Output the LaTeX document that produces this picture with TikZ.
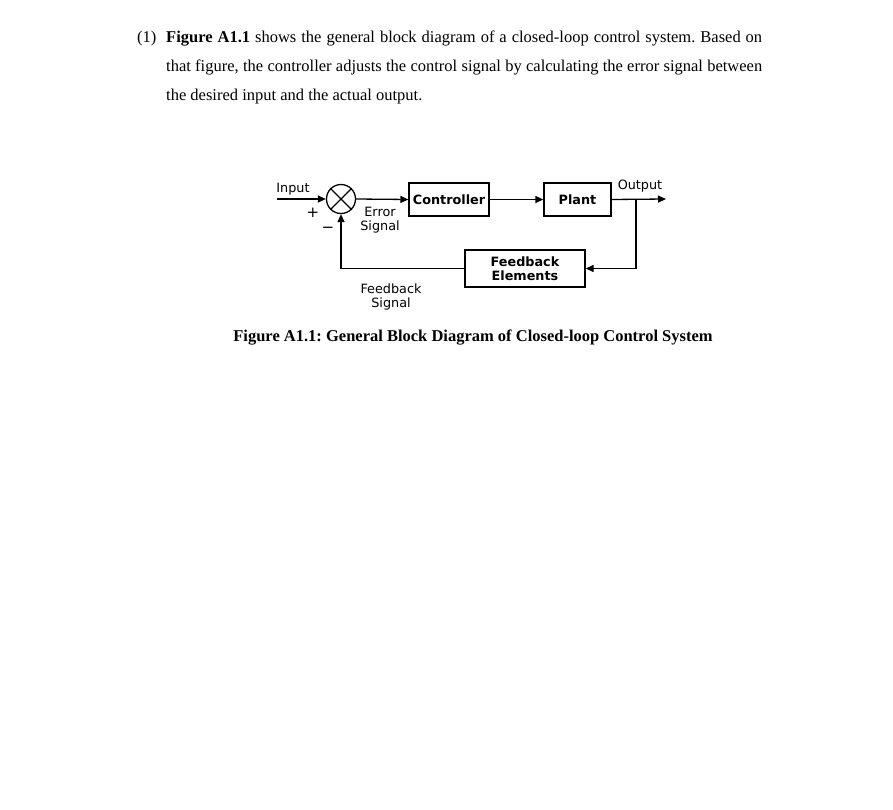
\documentclass[tikz,border=0pt]{standalone}
\usepackage{fontspec}
\setmainfont{Liberation Serif}
\newfontfamily\diagfont{DejaVu Sans}
\usetikzlibrary{arrows.meta}
\begin{document}
\begin{tikzpicture}[x=1pt,y=-1pt,
  blk/.style={draw,line width=1.3pt,minimum height=33pt,inner sep=0pt,align=center,font=\diagfont\bfseries\fontsize{12.8}{14}\selectfont},
  lbl/.style={font=\diagfont\fontsize{12.8}{14.5}\selectfont,align=center,inner sep=0pt},
  conn/.style={line width=1.3pt},
  arr/.style={conn,-{Triangle[length=8pt,width=7pt]}},
  para/.style={anchor=base west,inner sep=0pt,font=\fontsize{16.5}{19}\selectfont}]
\useasboundingbox (0,0) rectangle (893,810);
\fill[white] (0,0) rectangle (893,810);
% paragraph
\node[para] (num) at (137,43) {(1)};
\node[para] (l1) at (166,43) {\frenchspacing\makebox[596pt][s]{\textbf{Figure A1.1} shows the general block diagram of a closed-loop control system. Based on}};
\node[para] (l2) at (166,71.7) {\makebox[596pt][s]{that figure, the controller adjusts the control signal by calculating the error signal between}};
\node[para] (l3) at (166,100.4) {the desired input and the actual output.};
% blocks
\node[draw,circle,line width=1.3pt,minimum size=29pt,inner sep=0pt] (sum) at (341,199) {};
\draw[conn] (sum.north west) -- (sum.south east) (sum.north east) -- (sum.south west);
\node[blk,minimum width=80pt] (ctrl) at (449,199.5) {Controller};
\node[blk,minimum width=67pt] (plant) at (577.5,199.5) {Plant};
\node[blk,minimum width=120pt,minimum height=37pt] (fb) at (525,268.5) {Feedback\\Elements};
% labels
\node[lbl] (inlbl) at (293,189) {Input};
\node[lbl] (outlbl) at (640,186) {Output};
\node[lbl,font=\diagfont\fontsize{15}{15}\selectfont] (plus) at (313,213) {+};
\node[lbl,font=\diagfont\fontsize{15}{15}\selectfont] (minus) at (328,230) {−};
\node[lbl] (err) at (380,220) {Error\\Signal};
\node[lbl] (fbs) at (391,297) {Feedback\\Signal};
% connectors
\coordinate (in) at (277,199);
\coordinate (out) at (666,199);
\coordinate (br) at (636,199);
\draw[arr] (in) -- (sum.west);
\draw[arr] (sum.east) -- (ctrl.west);
\draw[arr] (ctrl.east) -- (plant.west);
\draw[arr] (plant.east) -- (out);
\draw[arr] (br) |- (fb.east);
\draw[arr] (fb.west) -| (sum.south);
% caption
\node[anchor=base,inner sep=0pt,font=\fontsize{16.5}{19}\selectfont\bfseries] (cap) at (473,341) {\frenchspacing Figure A1.1: General Block Diagram of Closed-loop Control System};
\end{tikzpicture}
\end{document}
